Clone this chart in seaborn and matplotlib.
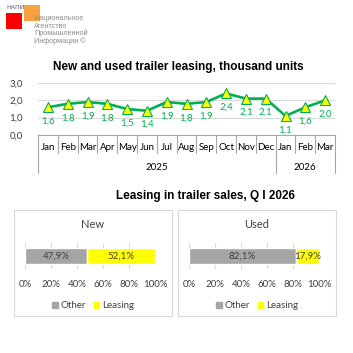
import matplotlib
matplotlib.use("Agg")
import matplotlib.pyplot as plt
import matplotlib.patches as mpatches
import seaborn as sns
import pandas as pd
import numpy as np

# ---- data ----
months = ["Jan", "Feb", "Mar", "Apr", "May", "Jun", "Jul", "Aug", "Sep", "Oct", "Nov", "Dec", "Jan", "Feb", "Mar"]
years = ["2025"] * 12 + ["2026"] * 3
leasing = [1.6, 1.8, 1.9, 1.8, 1.5, 1.4, 1.9, 1.8, 1.9, 2.4, 2.1, 2.1, 1.1, 1.6, 2.0]
yticks = [0.0, 1.0, 2.0, 3.0]

segments = ["New", "Used"]
share_other = [47.9, 82.1]
share_leasing = [52.1, 17.9]
pct_ticks = [0, 20, 40, 60, 80, 100]

sns.set_theme(style="white")
plt.rcParams["font.family"] = ["Lato", "DejaVu Sans"]

W = H = 353
fig = plt.figure(figsize=(W / 100, H / 100), dpi=100)
fig.patch.set_facecolor("white")

def fx(px):
    return px / W

def fy(py):
    return 1 - py / H

GREEN = "#00B050"
GRAY_TXT = "#404040"
GRID = "#D9D9D9"
FS = 7

# ---- logo ----
fig.patches.append(mpatches.Rectangle((fx(6), fy(29)), fx(16), 16 / H, transform=fig.transFigure,
                                      facecolor="#FF0000", edgecolor="none"))
fig.patches.append(mpatches.Rectangle((fx(24), fy(21)), fx(16), 16 / H, transform=fig.transFigure,
                                      facecolor="#F7A143", edgecolor="none"))
fig.text(fx(6), fy(7.5), "НАПИ", fontsize=4.5, color="#4A5A7A", va="center", ha="left",
         family=["DejaVu Sans"])
for i, t in enumerate(["Национальное", "Агентство", "Промышленной", "Информации ©"]):
    fig.text(fx(34), fy(19 + i * 7.3), t, fontsize=5.2, color="#8C8C8C", va="center", ha="left",
             family=["Liberation Sans"])

# ---- top chart ----
fig.text(fx(178), fy(67), "New and used trailer leasing, thousand units", ha="center", va="center",
         fontsize=8.5, fontweight="bold", family=["Liberation Sans"], color="black")

ax = fig.add_axes([fx(38), fy(135), fx(335 - 38), (135 - 83) / H])
df = pd.DataFrame({"idx": np.arange(len(months)), "val": leasing})
sns.lineplot(data=df, x="idx", y="val", ax=ax, color=GREEN, linewidth=1.9,
             marker="^", markersize=6.5, markerfacecolor="#FFFF00", markeredgecolor=GREEN,
             markeredgewidth=0.8)
ax.set_xlim(-0.5, len(months) - 0.5)
ax.set_ylim(0, 3)
ax.set_yticks(yticks)
ax.set_yticklabels([f"{v:.1f}".replace(".", ",") for v in yticks], fontsize=FS, color=GRAY_TXT)
ax.tick_params(axis="y", length=0, pad=11)
ax.grid(axis="y", color=GRID, linewidth=0.8)
ax.set_axisbelow(True)
for s in ["top", "right", "left"]:
    ax.spines[s].set_visible(False)
ax.spines["bottom"].set_color("#A6A6A6")
ax.spines["bottom"].set_linewidth(0.8)
ax.set_xticks(range(len(months)))
ax.set_xticklabels(months, fontsize=FS, color="black")
ax.tick_params(axis="x", length=0, pad=6)
ax.set_xlabel("")
ax.set_ylabel("")

for i, v in enumerate(leasing):
    ax.annotate(f"{v:.1f}".replace(".", ","), (i, v), xytext=(0, -10), textcoords="offset points",
                ha="center", va="center", fontsize=FS, color=GREEN)

tr = ax.get_xaxis_transform()
axh = 135 - 83
m_low = -(153 - 135) / axh
y_low = -(173 - 135) / axh
year_bounds = [-0.5, 11.5, 14.5]
for b in np.arange(-0.5, len(months), 1.0):
    low = y_low if b in year_bounds else m_low
    ax.plot([b, b], [0, low], transform=tr, color="#A6A6A6", linewidth=0.8, clip_on=False)
uniq = []
for y in years:
    if y not in uniq:
        uniq.append(y)
for y in uniq:
    idx = [i for i, yy in enumerate(years) if yy == y]
    ax.text((idx[0] + idx[-1]) / 2, -(167 - 135) / axh, y, transform=tr, ha="center", va="center",
            fontsize=FS, color="black")

# ---- bottom charts ----
fig.text(fx(205), fy(196), "Leasing in trailer sales, Q I 2026", ha="center", va="center",
         fontsize=8.5, fontweight="bold", family=["Liberation Sans"], color="black")

panels = [
    dict(box=(14, 172), x0=25, x1=155, bar=(247, 263)),
    dict(box=(178, 336), x0=189, x1=319, bar=(248, 264)),
]
for k, p in enumerate(panels):
    bx0, bx1 = p["box"]
    fig.patches.append(mpatches.Rectangle((fx(bx0), fy(316)), fx(bx1 - bx0), (316 - 210) / H,
                                          transform=fig.transFigure, facecolor="none",
                                          edgecolor="#D9D9D9", linewidth=0.8))
    fig.text(fx((bx0 + bx1) / 2), fy(224), segments[k], ha="center", va="center", fontsize=8,
             color="#404040")
    a_top, a_bot = 243, 269
    bax = fig.add_axes([fx(p["x0"]), fy(a_bot), fx(p["x1"] - p["x0"]), (a_bot - a_top) / H])
    bar_h = (p["bar"][1] - p["bar"][0]) / (a_bot - a_top)
    bax.barh([0], [share_other[k]], height=bar_h, color="#A5A5A5", label="Other")
    bax.barh([0], [share_leasing[k]], left=[share_other[k]], height=bar_h, color="#FFFF00", label="Leasing")
    bax.set_xlim(0, 100)
    bax.set_ylim(-0.5, 0.5)
    bax.set_yticks([])
    bax.set_xticks(pct_ticks)
    bax.set_xticklabels([f"{t}%" for t in pct_ticks], fontsize=FS, color="#404040")
    bax.tick_params(axis="x", length=0, pad=8)
    bax.grid(axis="x", color=GRID, linewidth=0.8)
    bax.grid(axis="y", visible=False)
    bax.set_axisbelow(True)
    for s in bax.spines.values():
        s.set_visible(False)
    bax.text(share_other[k] / 2, 0, f"{share_other[k]:.1f}%".replace(".", ","), ha="center",
             va="center", fontsize=FS, color="#404040")
    bax.text(share_other[k] + share_leasing[k] / 2, 0, f"{share_leasing[k]:.1f}%".replace(".", ","),
             ha="center", va="center", fontsize=FS, color="#404040")
    handles = [mpatches.Patch(color="#A5A5A5", label="Other"), mpatches.Patch(color="#FFFF00", label="Leasing")]
    fig.legend(handles=handles, loc="center", bbox_to_anchor=(fx((bx0 + bx1) / 2), fy(306)),
               ncol=2, frameon=False, fontsize=FS, handlelength=0.6, handleheight=0.6,
               handletextpad=0.3, columnspacing=0.8, labelcolor="#404040")

fig.savefig("out.png", dpi=100, facecolor="white")
